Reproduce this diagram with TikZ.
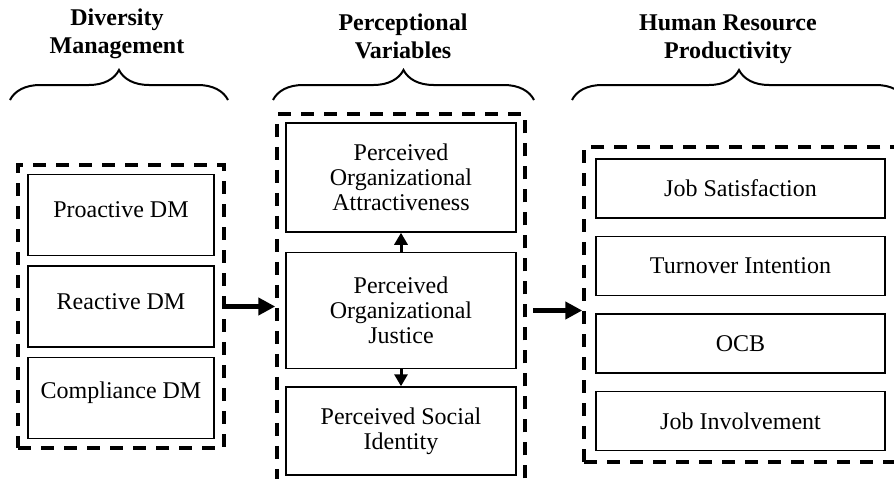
\documentclass[tikz,border=0pt]{standalone}
\usepackage{fontspec}
\setmainfont{Liberation Serif}
\usetikzlibrary{positioning,fit,arrows.meta,decorations.pathreplacing}

\begin{document}
\begin{tikzpicture}[x=1pt,y=-1pt,
	dmbox/.style={draw,line width=1.5pt,minimum width=186pt,minimum height=81pt,font=\fontsize{24}{25}\selectfont},
	pvbox/.style={draw,line width=1.5pt,minimum width=230pt,align=center,font=\fontsize{24}{25}\selectfont},
	hrbox/.style={draw,line width=1.5pt,minimum width=289pt,minimum height=59pt,font=\fontsize{24}{25}\selectfont},
	dashbox/.style={draw,dash pattern=on 13pt off 10pt,line width=4pt},
	title/.style={align=center,font=\fontsize{24}{28}\selectfont\bfseries},
	curly/.style={decorate,decoration={brace,amplitude=30pt},line width=2pt},
	bigarrow/.style={-{Triangle[length=17pt,width=17pt]},line width=4.5pt},
	smallarrow/.style={-{Triangle[length=12pt,width=13pt]},line width=3pt}]
		\useasboundingbox (0,0) rectangle (894,479);
		\clip (0,0) rectangle (894,479);

		\node[title]	(t1)	at (117,34)		{Diversity\\Management};
		\node[title]	(t2)	at (403,36)		{Perceptional\\Variables};
		\node[title]	(t3)	at (728,39)		{Human Resource\\Productivity};

		\draw[curly] (10,100) -- (228,100);
		\draw[curly] (273,100) -- (534,100);
		\draw[curly] (572,100) -- (906,100);

		\node[dmbox]	(1)	at (121,215)			{\raisebox{5pt}[\height][\depth]{Proactive DM}};
		\node[dmbox,below=9pt of 1]				(2)	{\raisebox{5pt}[\height][\depth]{Reactive DM}};
		\node[dmbox,below=9pt of 2]				(3)	{\raisebox{5pt}[\height][\depth]{Compliance DM}};

		\node[pvbox,minimum height=109pt]	(4)	at (401,177.5)	{Perceived\\Organizational\\Attractiveness};
		\node[pvbox,minimum height=116pt,below=19pt of 4]	(5)	{Perceived\\Organizational\\Justice};
		\node[pvbox,minimum height=88pt,below=17pt of 5]		(6)	{Perceived Social\\Identity};

		\node[hrbox]	(7)	at (740.5,188.5)		{Job Satisfaction};
		\node[hrbox,below=17pt of 7]				(8)	{Turnover Intention};
		\node[hrbox,below=17pt of 8]				(9)	{OCB};
		\node[hrbox,below=17pt of 9]				(10)	{Job Involvement};

		\node[dashbox,inner sep=9pt,fit=(1)(3)]		(dm)	{};
		\node[dashbox,inner sep=8pt,fit=(4)(6)]		(pv)	{};
		\node[dashbox,inner sep=11pt,fit=(7)(10)]	(hr)	{};

		\path (pv.east |- 5) ++(6,0) coordinate (o);

		\draw[bigarrow] (dm.east) -- (dm.east -| pv.west);
		\draw[bigarrow] (o) -- (o -| hr.west);
		\draw[smallarrow] (5) -- (4);
		\draw[smallarrow] (5) -- (6);
	\end{tikzpicture}
\end{document}
